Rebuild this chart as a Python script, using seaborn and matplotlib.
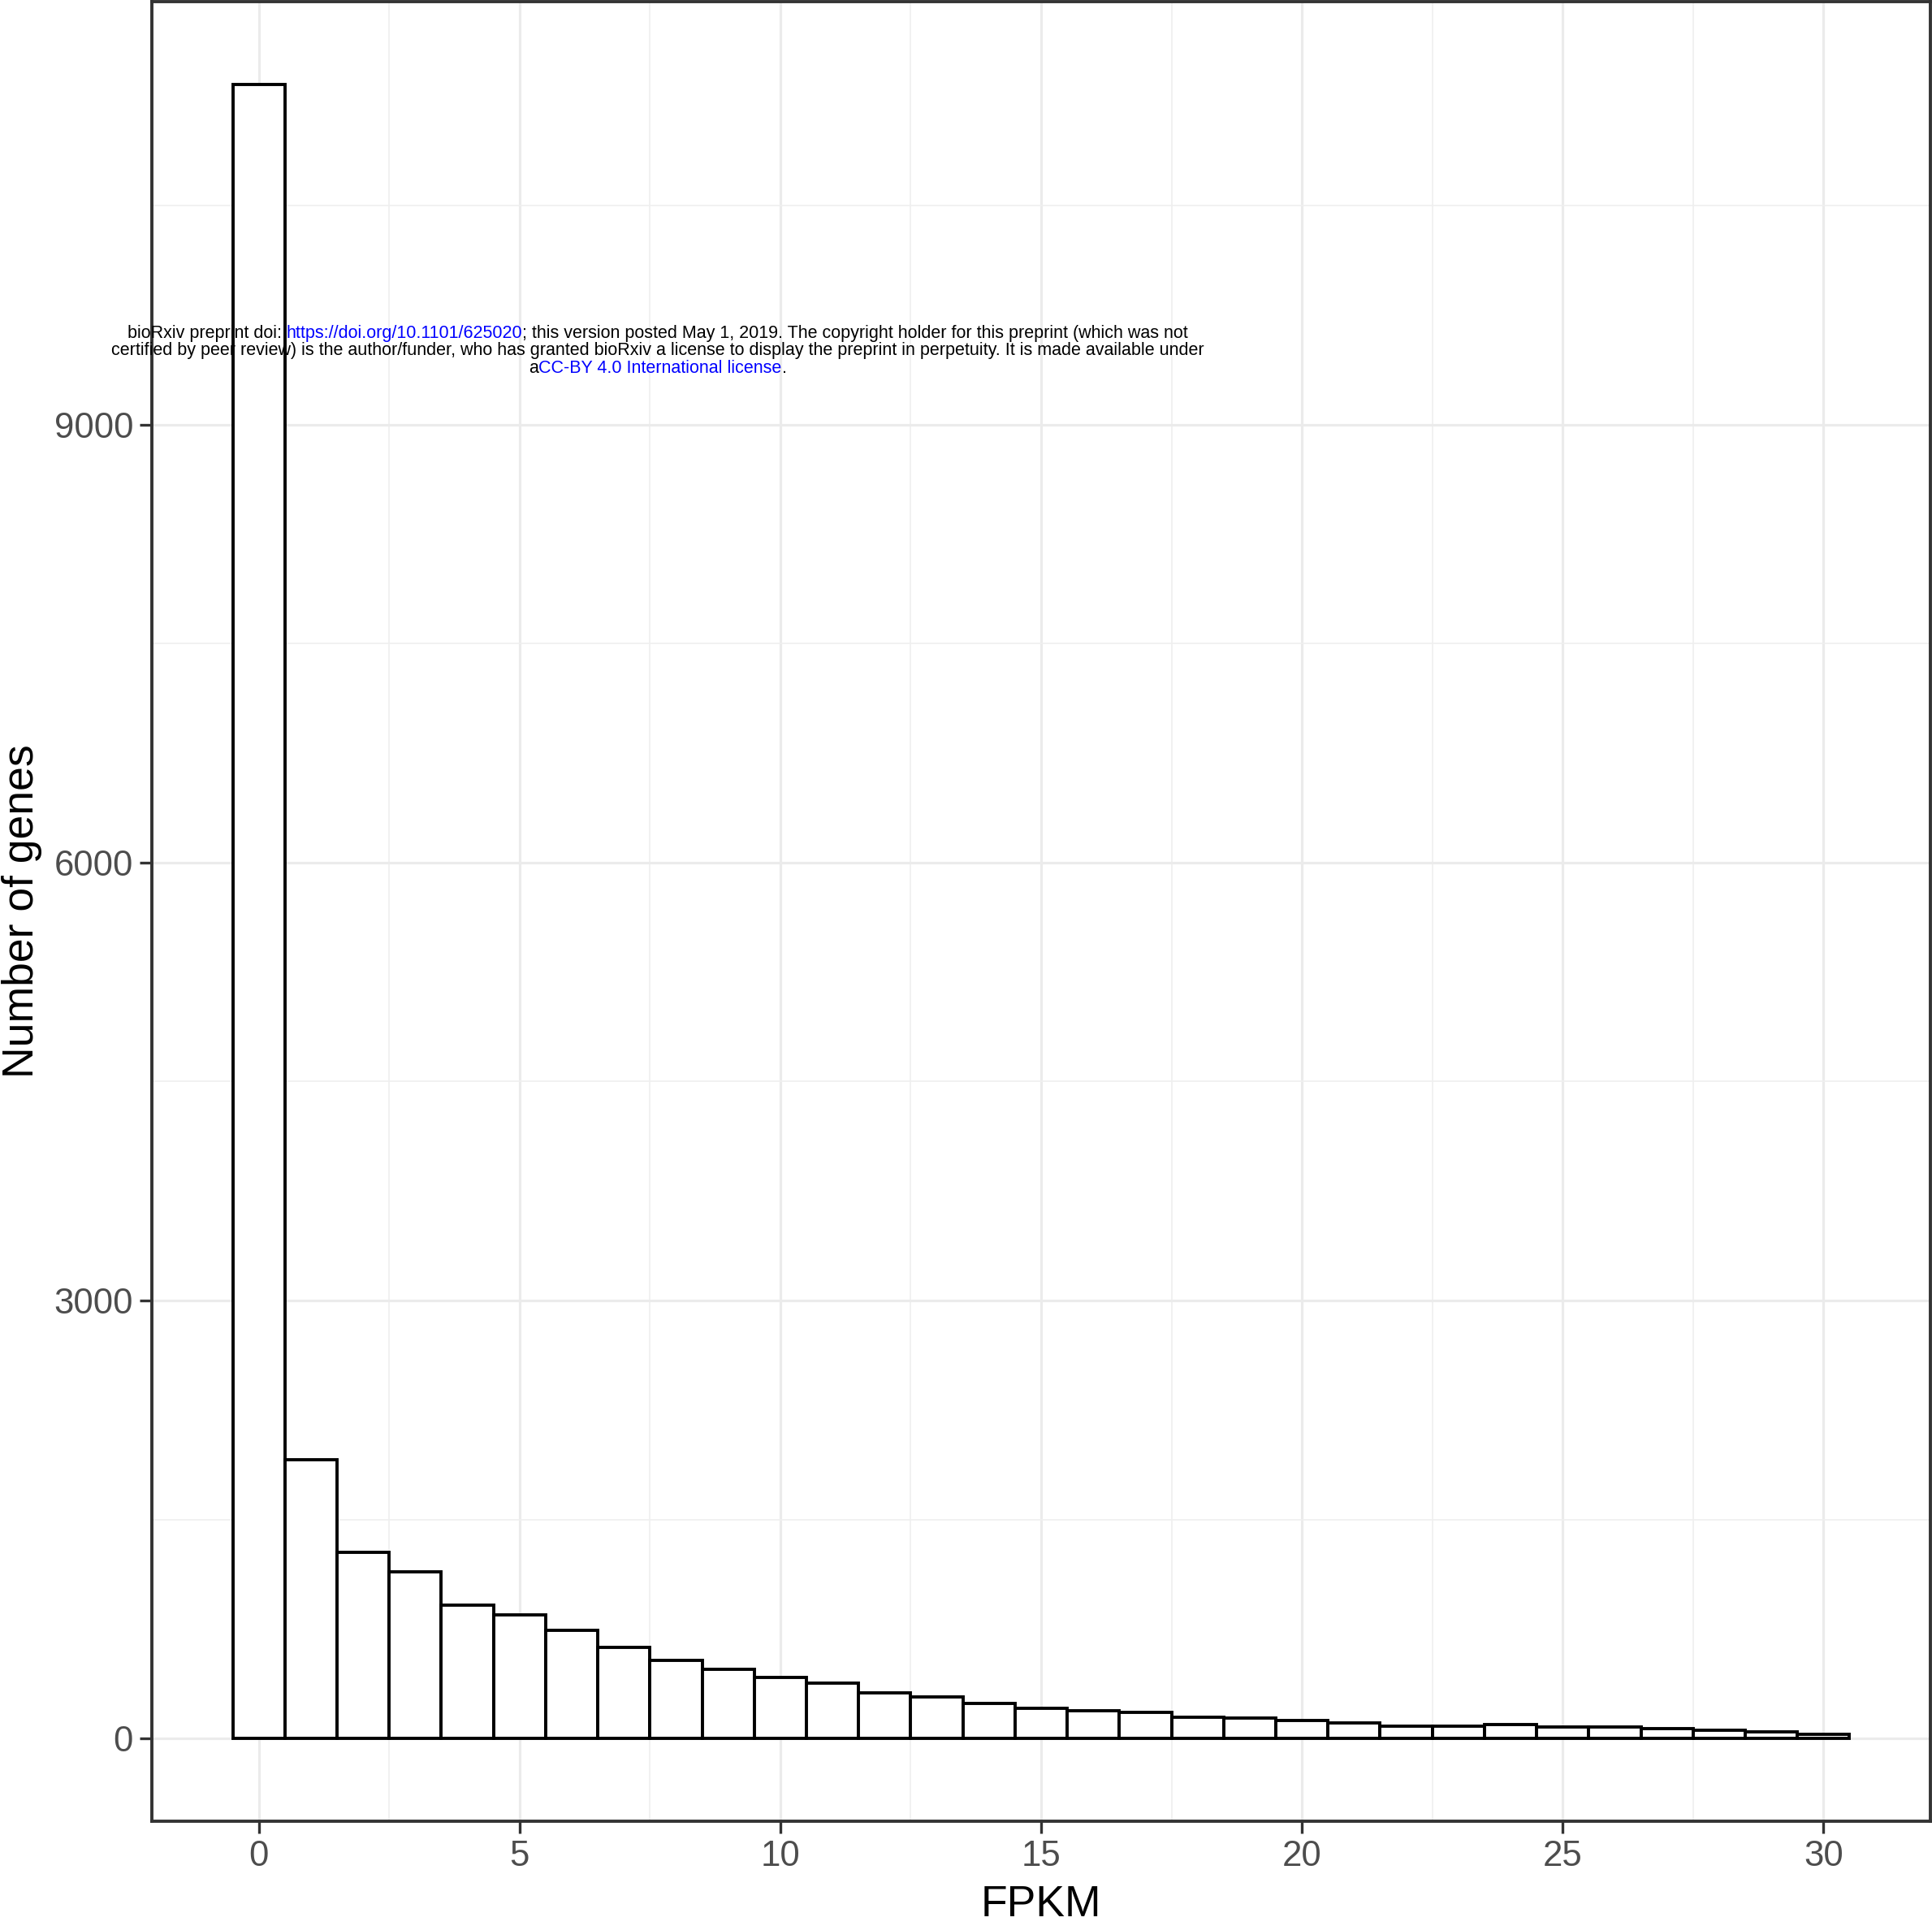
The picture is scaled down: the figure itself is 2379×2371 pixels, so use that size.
import numpy as np
import pandas as pd
import matplotlib
matplotlib.use("Agg")
import matplotlib.pyplot as plt
import seaborn as sns
from matplotlib.ticker import MultipleLocator

# ---- data ----
fpkm_bins = list(range(0, 31))
gene_counts = [11330, 1908, 1274, 1144, 915, 847, 743, 624, 535, 476,
               419, 382, 310, 287, 238, 205, 192, 180, 148, 142,
               121, 104, 85, 85, 93, 78, 81, 69, 59, 48, 27]
x_ticks = [0, 5, 10, 15, 20, 25, 30]
y_ticks = [0, 3000, 6000, 9000]
x_title = "FPKM"
y_title = "Number of genes"
note_lines = [
    [("bioRxiv preprint doi: ", "black"), ("https://doi.org/10.1101/625020", "#0000FF"),
     ("; this version posted May 1, 2019. The copyright holder for this preprint (which was not", "black")],
    [("certified by peer review) is the author/funder, who has granted bioRxiv a license to display the preprint in perpetuity. It is made available under", "black")],
    [("a", "black"), ("CC-BY 4.0 International license", "#0000FF"), (".", "black")],
]

df = pd.DataFrame({"fpkm": fpkm_bins, "count": gene_counts})

sns.set_theme(style="white")
plt.rcParams["font.family"] = ["Liberation Sans", "DejaVu Sans"]

W, H, DPI = 2379, 2371, 100
fig = plt.figure(figsize=(W / DPI, H / DPI), dpi=DPI, facecolor="white")
ax = fig.add_axes([187 / W, (H - 2242) / H, (2377 - 187) / W, (2242 - 2) / H])
ax.set_facecolor("white")

sns.histplot(data=df, x="fpkm", weights="count", discrete=True, ax=ax,
             color="white", edgecolor="black", linewidth=2.8, alpha=1.0,
             zorder=3)

xmin, xmax = min(fpkm_bins) - 0.5, max(fpkm_bins) + 0.5
xr = xmax - xmin
ymax = max(gene_counts)
ax.set_xlim(xmin - 0.05 * xr, xmax + 0.05 * xr)
ax.set_ylim(-0.05 * ymax, ymax * 1.05)

ax.set_xticks(x_ticks)
ax.set_yticks(y_ticks)
ax.xaxis.set_minor_locator(MultipleLocator(2.5))
ax.yaxis.set_minor_locator(MultipleLocator(1500))
ax.grid(True, which="major", color="#EBEBEB", linewidth=2.3, zorder=0)
ax.grid(True, which="minor", color="#EFEFEF", linewidth=1.2, zorder=0)
ax.set_axisbelow(True)
ax.tick_params(which="minor", length=0)
ax.tick_params(which="major", length=10.5, width=2.4, color="#333333",
               labelsize=31.5, labelcolor="#4D4D4D", pad=6,
               bottom=True, left=True)
for s in ax.spines.values():
    s.set_color("#333333")
    s.set_linewidth(2.8)
    s.set_zorder(5)

ax.set_xlabel(x_title, fontsize=38.5, color="black")
ax.set_ylabel(y_title, fontsize=38.5, color="black")
ax.xaxis.set_label_coords(0.5, (2242 - 2320) / 2240)
ax.yaxis.set_label_coords((52 - 187) / 2190, 0.5)

# watermark note (multi-colour lines)
fig.canvas.draw()
renderer = fig.canvas.get_renderer()
center_x = 810
line_ys = [410, 431, 453]
fs = 15.5
for segs, ly in zip(note_lines, line_ys):
    widths = []
    for txt, col in segs:
        t = fig.text(0, 0, txt, fontsize=fs)
        widths.append(t.get_window_extent(renderer).width)
        t.remove()
    total = sum(widths)
    x0 = center_x - total / 2
    for (txt, col), w in zip(segs, widths):
        fig.text(x0 / W, 1 - ly / H, txt, fontsize=fs, color=col,
                 ha="left", va="center", zorder=10)
        x0 += w

fig.savefig("out.png", dpi=DPI, facecolor="white")
